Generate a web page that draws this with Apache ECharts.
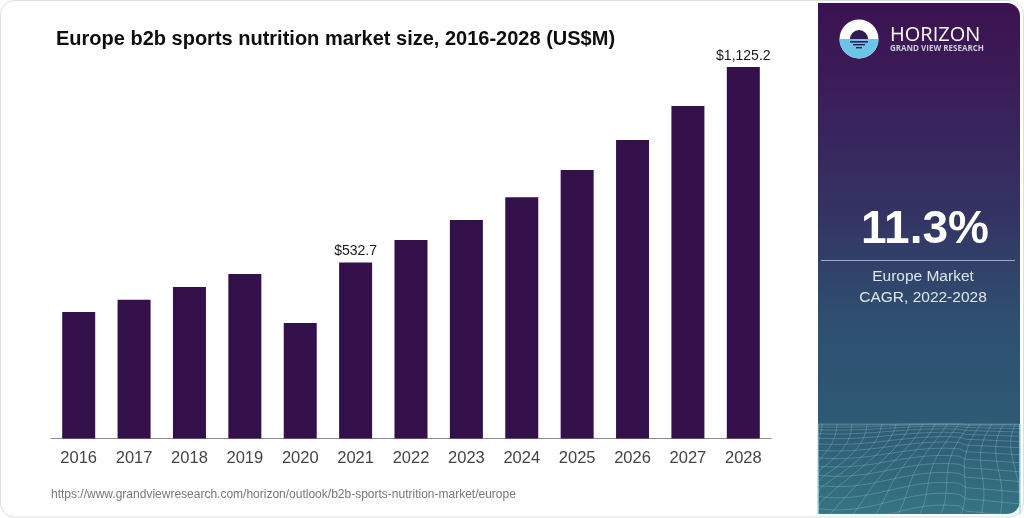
<!DOCTYPE html>
<html>
<head>
<meta charset="utf-8">
<title>Europe b2b sports nutrition market size</title>
<script src="https://cdn.jsdelivr.net/npm/echarts@6/dist/echarts.min.js"></script>
<style>
    html, body { margin: 0; padding: 0; background: #fff; }
    #chart { width: 1024px; height: 518px; }
</style>
</head>
<body>
<div id="chart"></div>
<script>
var years = ['2016', '2017', '2018', '2019', '2020', '2021', '2022', '2023', '2024', '2025', '2026', '2027', '2028'];
var marketSize = [383, 420, 459, 498, 350, 532.7, 601, 662, 731, 813, 904, 1007, 1125.2];
var labelledYears = ['2021', '2028'];

var font = '"Liberation Sans", Arial, sans-serif';
var chart = echarts.init(document.getElementById('chart'), null, { renderer: 'canvas' });

// sidebar texture at the bottom, decoration only
function meshLines() {
    var out = [];
    var left = 818, right = 1020, top = 424, bottom = 514;
    var i, j, pts, t, x, y;
    for (i = 0; i < 15; i++) {
        t = i / 14;
        pts = [];
        for (j = 0; j <= 30; j++) {
            x = left + (right - left) * j / 30;
            y = top + 90 * t * t + 9 * t * Math.sin(j / 30 * 6 + 1) * (j < 22 ? 1 : 0.4);
            pts.push([x, Math.min(y, bottom)]);
        }
        out.push(pts);
    }
    for (i = -6; i < 24; i++) {
        pts = [];
        for (j = 0; j <= 14; j++) {
            t = j / 14;
            y = top + (bottom - top) * t;
            x = left + i * 13 + 34 * (1 - t) + (i - 9) * 16 * t * t * 0.5 + 6 * Math.sin(t * 5 + i / 3);
            pts.push([Math.max(left, Math.min(x, right)), y]);
        }
        out.push(pts);
    }
    return out.map(function (p) {
        return {
            type: 'polyline',
            silent: true,
            shape: { points: p },
            style: { fill: null, stroke: 'rgba(170,220,225,0.38)', lineWidth: 0.7 }
        };
    });
}

var option = {
    animation: false,
    backgroundColor: '#fff',
    grid: { left: 51, right: 253, top: 67, bottom: 79.5 },
    title: {
        text: 'Europe b2b sports nutrition market size, 2016-2028 (US$M)',
        left: 51,
        top: 24,
        textStyle: { fontFamily: font, fontSize: 20, fontWeight: 'bold', color: '#0d0d0d' }
    },
    xAxis: {
        type: 'category',
        data: years,
        axisTick: { show: false },
        axisLine: { lineStyle: { color: '#8c8c8c', width: 1 } },
        axisLabel: { fontFamily: font, fontSize: 16.5, color: '#444', margin: 11 }
    },
    yAxis: { type: 'value', min: 0, max: 1125.2, show: false },
    series: [{
        type: 'bar',
        data: marketSize,
        barWidth: 33,
        itemStyle: { color: '#34104a' },
        label: {
            show: true,
            position: 'top',
            distance: 4,
            fontFamily: font,
            fontSize: 14,
            color: '#1a1a1a',
            formatter: function (p) {
                if (labelledYears.indexOf(p.name) < 0) return '';
                return '$' + p.value.toLocaleString('en-US', { minimumFractionDigits: 1 });
            }
        }
    }],
    graphic: [
        // card outline
        {
            type: 'rect', silent: true, z: -1,
            shape: { x: 0.5, y: 0.5, width: 1023, height: 516.5, r: 14 },
            style: { fill: '#fff', stroke: '#dedede', lineWidth: 1 }
        },
        // sidebar
        {
            type: 'rect', silent: true,
            shape: { x: 818, y: 3, width: 202, height: 511, r: [0, 13, 13, 0] },
            style: {
                fill: new echarts.graphic.LinearGradient(0, 0, 0, 1, [
                    { offset: 0, color: '#3c1250' },
                    { offset: 0.2, color: '#3a205a' },
                    { offset: 0.4, color: '#343262' },
                    { offset: 0.62, color: '#2e4f70' },
                    { offset: 0.82, color: '#2d5a75' },
                    { offset: 1, color: '#357482' }
                ])
            }
        },
        { type: 'group', silent: true, children: meshLines() },
        // logo
        { type: 'circle', silent: true, shape: { cx: 859, cy: 39, r: 19.5 }, style: { fill: '#fff' } },
        { type: 'sector', silent: true, shape: { cx: 859, cy: 39, r: 19.5, r0: 0, startAngle: 0, endAngle: Math.PI }, style: { fill: '#6cc5e8' } },
        { type: 'sector', silent: true, shape: { cx: 859, cy: 39, r: 9, r0: 0, startAngle: Math.PI, endAngle: Math.PI * 2 }, style: { fill: '#33174f' } },
        { type: 'rect', silent: true, shape: { x: 850, y: 41, width: 18, height: 1.6 }, style: { fill: '#33174f' } },
        { type: 'rect', silent: true, shape: { x: 853, y: 44, width: 12, height: 1.4 }, style: { fill: '#33174f' } },
        { type: 'rect', silent: true, shape: { x: 856, y: 47, width: 6, height: 1.4 }, style: { fill: '#33174f' } },
        {
            type: 'text', silent: true,
            style: { x: 890, y: 25, text: 'HORIZON', fill: '#fff', font: '20px "Open Sans", sans-serif', textVerticalAlign: 'top' }
        },
        {
            type: 'text', silent: true,
            style: { x: 890, y: 45, text: 'GRAND VIEW RESEARCH', fill: '#c9cfdc', font: 'bold 8px "Open Sans", sans-serif', textVerticalAlign: 'top' }
        },
        // cagr block
        {
            type: 'text', silent: true,
            style: { x: 925, y: 230, text: '11.3%', fill: '#fff', font: 'bold 46px ' + font, align: 'center', verticalAlign: 'middle' }
        },
        {
            type: 'rect', silent: true,
            shape: { x: 821, y: 260, width: 194, height: 1 },
            style: { fill: 'rgba(255,255,255,0.55)' }
        },
        {
            type: 'text', silent: true,
            style: { x: 923, y: 277, text: 'Europe Market', fill: '#dfe5ec', font: '15.5px ' + font, align: 'center', verticalAlign: 'middle' }
        },
        {
            type: 'text', silent: true,
            style: { x: 923, y: 298, text: 'CAGR, 2022-2028', fill: '#dfe5ec', font: '15.5px ' + font, align: 'center', verticalAlign: 'middle' }
        },
        // source
        {
            type: 'text', silent: true,
            style: { x: 51, y: 495, text: 'https://www.grandviewresearch.com/horizon/outlook/b2b-sports-nutrition-market/europe', fill: '#777', font: '12px ' + font, verticalAlign: 'middle' }
        }
    ]
};
chart.setOption(option);
</script>
</body>
</html>
